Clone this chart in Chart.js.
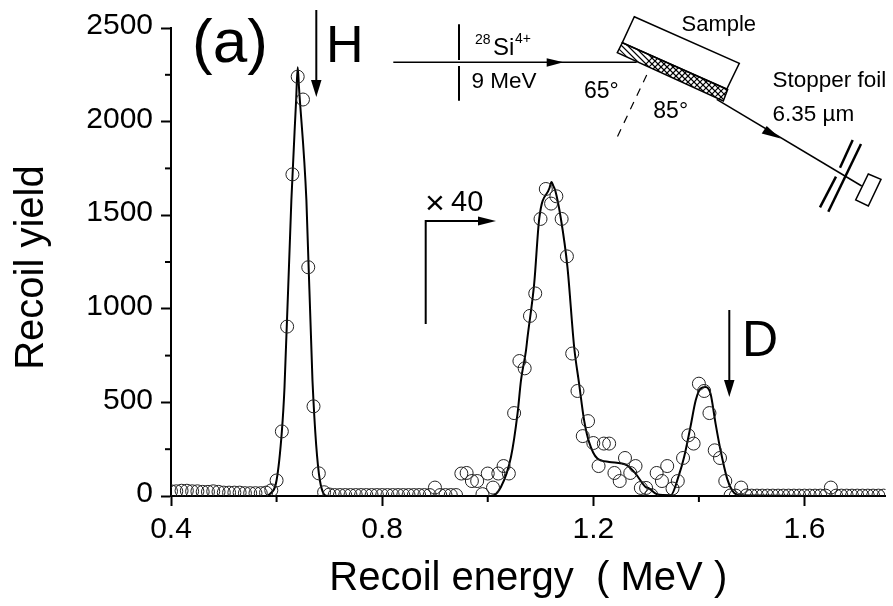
<!DOCTYPE html>
<html>
<head>
<meta charset="utf-8">
<style>
  html, body { margin: 0; padding: 0; background: #fff; }
  #wrap { width: 893px; height: 606px; }
</style>
<script src="https://cdn.jsdelivr.net/npm/chart.js@4"></script>
</head>
<body>
<div id="wrap"><canvas id="myChart" width="893" height="606"></canvas></div>
<script>
const energy = [
  0.40,0.41,0.42,0.43,0.44,0.45,0.46,0.47,0.48,0.49,
  0.50,0.51,0.52,0.53,0.54,0.55,0.56,0.57,0.58,0.59,
  0.60,0.61,0.62,0.63,0.64,0.65,0.66,0.67,0.68,0.69,
  0.70,0.71,0.72,0.73,0.74,0.75,0.76,0.77,0.78,0.79,
  0.80,0.81,0.82,0.83,0.84,0.85,0.86,0.87,0.88,0.89,
  0.90,0.91,0.92,0.93,0.94,0.95,0.96,0.97,0.98,0.99,
  1.00,1.01,1.02,1.03,1.04,1.05,1.06,1.07,1.08,1.09,
  1.10,1.11,1.12,1.13,1.14,1.15,1.16,1.17,1.18,1.19,
  1.20,1.21,1.22,1.23,1.24,1.25,1.26,1.27,1.28,1.29,
  1.30,1.31,1.32,1.33,1.34,1.35,1.36,1.37,1.38,1.39,
  1.40,1.41,1.42,1.43,1.44,1.45,1.46,1.47,1.48,1.49,
  1.50,1.51,1.52,1.53,1.54,1.55,1.56,1.57,1.58,1.59,
  1.60,1.61,1.62,1.63,1.64,1.65,1.66,1.67,1.68,1.69,
  1.70,1.71,1.72,1.73,1.74,1.75
];
const recoilYield = [
  25,25,28,28,25,25,22,22,25,22,
  18,18,18,18,15,15,15,15,18,30,
  83,345,905,1718,2240,2118,1222,479,121,20,
  8,5,5,5,5,5,5,5,5,5,
  5,5,5,5,5,5,5,5,5,5,
  45,5,5,5,5,120,123,80,80,10,
  120,45,120,160,120,443,721,682,962,1082,
  1480,1640,1562,1601,1480,1280,761,561,320,400,
  283,160,280,280,123,80,203,123,160,43,
  43,5,123,80,160,40,80,203,324,280,
  600,561,443,244,203,80,3,2,45,3,
  2,2,2,2,2,2,2,2,2,2,
  2,2,2,2,2,45,2,2,2,2,
  2,2,2,2,2,2
];
// fitted curve
const fitE = [0.40,0.58,0.587,0.60,0.61,0.615,0.628,0.637,0.640,0.6425,0.6565,0.668,0.682,0.697,
  0.90,1.006,1.025,1.044,1.0565,1.063,1.0725,1.0754,1.088,1.0975,1.117,1.1208,1.1245,1.1278,1.1386,1.151,1.1637,1.173,1.1826,1.192,1.2078,1.230,
  1.264,1.280,1.299,1.3055,1.3206,1.3465,1.362,1.372,1.384,1.394,1.4032,1.4127,1.422,1.4316,1.441,1.4535,1.463,1.4755,1.75];
const fitY = [0,0,10,84,345,580,1579,2113,2290,2180,1579,617,84,0,
  0,0,48,208,441,618,778,849,1134,1481,1645,1677,1655,1633,1481,1223,796,602,404,288,200,182,
  164,120,48,41,9,4,110,208,369,511,574,582,547,387,244,93,30,4,0];

const xMajor = [0.4, 0.8, 1.2, 1.6];
const xMinor = [0.6, 1.0, 1.4];
const yMajor = [0, 500, 1000, 1500, 2000, 2500];
const yMinor = [250, 750, 1250, 1750, 2250];

const FONT = '"Liberation Sans", Arial, sans-serif';

function label(ctx, text, x, y, size) {
  ctx.font = size + 'px ' + FONT;
  ctx.fillText(text, x, y);
}
function seg(ctx, pts, width) {
  ctx.lineWidth = width;
  ctx.beginPath();
  pts.forEach((p, i) => i ? ctx.lineTo(p[0], p[1]) : ctx.moveTo(p[0], p[1]));
  ctx.stroke();
}
function head(ctx, pts) {
  ctx.beginPath();
  pts.forEach((p, i) => i ? ctx.lineTo(p[0], p[1]) : ctx.moveTo(p[0], p[1]));
  ctx.closePath();
  ctx.fill();
}

// minor axis ticks (shorter than the major ones)
const minorTicks = {
  id: 'minorTicks',
  afterDatasetsDraw(chart) {
    const { ctx, scales: { x, y } } = chart;
    ctx.save();
    ctx.strokeStyle = '#000';
    xMinor.forEach(v => {
      const p = x.getPixelForValue(v);
      seg(ctx, [[p, y.bottom], [p, y.bottom + 6]], 2);
    });
    yMinor.forEach(v => {
      const p = y.getPixelForValue(v);
      seg(ctx, [[x.left - 6, p], [x.left, p]], 2);
    });
    ctx.restore();
  }
};

// panel letter, H / D markers and the geometry sketch
const sketch = {
  id: 'sketch',
  afterDraw(chart) {
    const ctx = chart.ctx;
    ctx.save();
    ctx.fillStyle = '#000';
    ctx.strokeStyle = '#000';
    ctx.textAlign = 'left';
    ctx.textBaseline = 'alphabetic';

    label(ctx, '(a)', 192, 62, 62);
    label(ctx, 'H', 326, 62, 52);
    seg(ctx, [[316.3, 10], [316.3, 85]], 2);
    head(ctx, [[311, 80], [321.5, 80], [316.3, 97]]);
    label(ctx, 'D', 742, 356, 50);
    seg(ctx, [[729.3, 310], [729.3, 385]], 2);
    head(ctx, [[724, 380], [734.5, 380], [729.3, 397]]);

    // x40 marker
    label(ctx, '×', 425, 214, 34);
    label(ctx, '40', 451, 210.5, 29);
    seg(ctx, [[425.7, 324], [425.7, 221], [480, 221]], 2);
    head(ctx, [[478, 216.5], [478, 225.5], [496, 221]]);

    // beam
    seg(ctx, [[393.3, 62.3], [636.7, 62.3]], 1.5);
    head(ctx, [[546.7, 58.3], [546.7, 66.7], [563.5, 62.3]]);
    seg(ctx, [[459, 24.3], [459, 60]], 2);
    seg(ctx, [[459, 66], [459, 100.7]], 2);

    // sample and hatched film
    ctx.beginPath();
    ctx.moveTo(634.3, 16.7); ctx.lineTo(739.3, 63.3); ctx.lineTo(726.7, 89.3); ctx.lineTo(622.3, 42.7);
    ctx.closePath();
    ctx.lineWidth = 1.5;
    ctx.stroke();
    ctx.save();
    ctx.beginPath();
    ctx.moveTo(622.3, 42.7); ctx.lineTo(727.7, 89.3); ctx.lineTo(723.3, 101); ctx.lineTo(617.3, 52.7);
    ctx.closePath();
    ctx.stroke();
    ctx.clip();
    for (let o = 600; o < 760; o += 6) {
      seg(ctx, [[o, 30], [o + 80, 110]], 1.2);
      seg(ctx, [[o + 80, 30], [o, 110]], 1.2);
    }
    ctx.restore();

    // surface normal
    ctx.save();
    ctx.setLineDash([8, 7]);
    seg(ctx, [[646.7, 75], [615, 141.7]], 1.2);
    ctx.restore();

    // recoil path, foil, detector
    seg(ctx, [[716.7, 99.3], [861.7, 186]], 1.5);
    head(ctx, [[761.7, 133.5], [766.7, 126], [780.5, 138.5]]);
    seg(ctx, [[852.7, 140], [840, 167.7]], 2.5);
    seg(ctx, [[836, 176.7], [820, 207.3]], 2.5);
    seg(ctx, [[861, 144], [828.3, 211.7]], 2.5);
    ctx.beginPath();
    ctx.moveTo(868.3, 174); ctx.lineTo(881, 179.3); ctx.lineTo(868.3, 206); ctx.lineTo(855.7, 200);
    ctx.closePath();
    ctx.lineWidth = 1.5;
    ctx.stroke();

    label(ctx, 'Sample', 681.5, 31, 22);
    label(ctx, '28', 475, 44, 14);
    label(ctx, 'Si', 493, 55, 24);
    label(ctx, '4+', 515, 42.5, 14);
    label(ctx, '9 MeV', 471.5, 88.3, 22.5);
    label(ctx, '65°', 584, 98.3, 23);
    label(ctx, '85°', 653.3, 117.7, 23);
    label(ctx, 'Stopper foil', 772.5, 87.3, 22.5);
    label(ctx, '6.35 µm', 772.5, 120.7, 22.5);
    ctx.restore();
  }
};

new Chart(document.getElementById('myChart').getContext('2d'), {
  type: 'scatter',
  data: {
    datasets: [{
      data: energy.map((e, i) => ({ x: e, y: recoilYield[i] })),
      showLine: false,
      pointStyle: 'circle',
      pointRadius: 6.5,
      pointBorderWidth: 1,
      pointBorderColor: '#222',
      pointBackgroundColor: 'rgba(0,0,0,0)'
    }, {
      data: fitE.map((e, i) => ({ x: e, y: fitY[i] })),
      showLine: true,
      cubicInterpolationMode: 'monotone',
      borderColor: '#000',
      borderWidth: 2,
      pointRadius: 0,
      fill: false
    }]
  },
  options: {
    responsive: false,
    animation: false,
    layout: { padding: { left: 0, top: 28, right: 5, bottom: 0 } },
    plugins: { legend: { display: false }, tooltip: { enabled: false } },
    scales: {
      x: {
        type: 'linear',
        min: 0.4,
        max: 1.7535,
        afterBuildTicks: s => { s.ticks = xMajor.map(v => ({ value: v })); },
        afterFit: s => { s.height = 110; },
        border: { color: '#000', width: 2 },
        grid: { drawOnChartArea: false, tickLength: 10, tickWidth: 2, tickColor: '#000' },
        ticks: {
          color: '#000',
          padding: 6,
          maxRotation: 0,
          autoSkip: false,
          font: { family: FONT, size: 30 },
          callback: v => v.toFixed(1)
        },
        title: {
          display: true,
          text: 'Recoil energy  ( MeV )',
          color: '#000',
          font: { family: FONT, size: 40 },
          padding: { top: 0, bottom: 3 }
        }
      },
      y: {
        min: 0,
        max: 2500,
        afterBuildTicks: s => { s.ticks = yMajor.map(v => ({ value: v })); },
        afterFit: s => { s.width = 171; },
        border: { color: '#000', width: 2 },
        grid: { drawOnChartArea: false, tickLength: 10, tickWidth: 2, tickColor: '#000' },
        ticks: {
          color: '#000',
          padding: 8,
          labelOffset: -2,
          autoSkip: false,
          font: { family: FONT, size: 30 },
          callback: v => String(v)
        },
        title: {
          display: true,
          text: 'Recoil yield ',
          color: '#000',
          font: { family: FONT, size: 40 },
          padding: { top: 8, bottom: 0 }
        }
      }
    }
  },
  plugins: [minorTicks, sketch]
});
</script>
</body>
</html>
